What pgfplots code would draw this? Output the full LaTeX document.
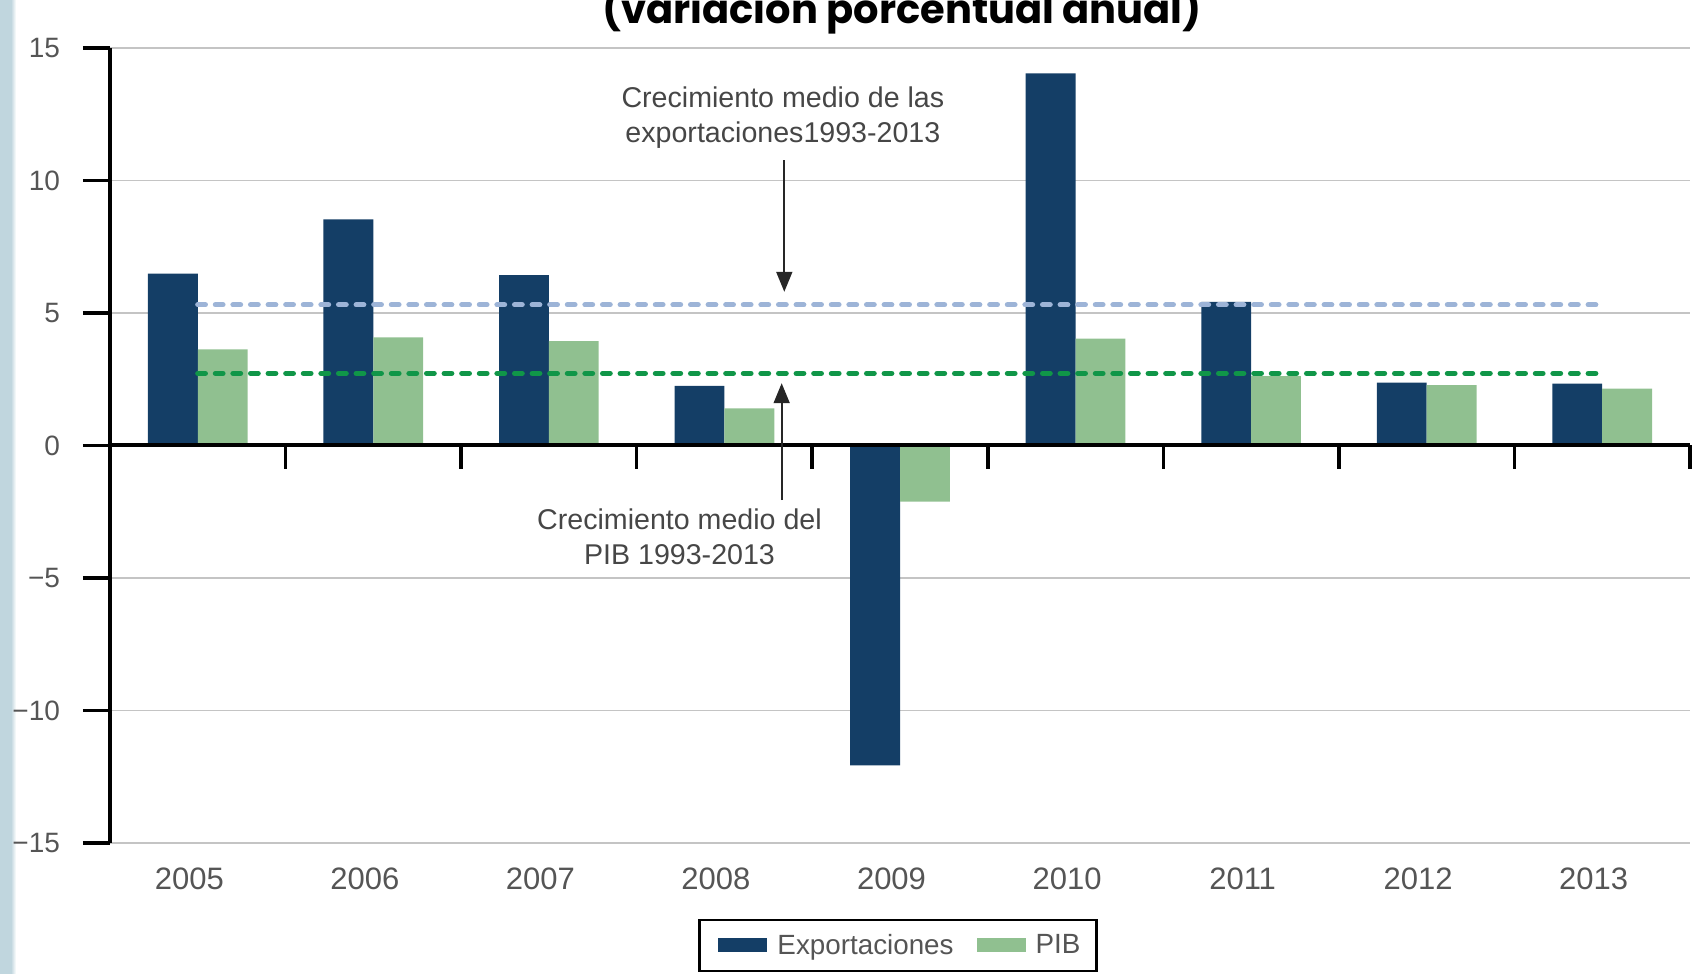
\documentclass[border=0pt]{standalone}
\usepackage{fontspec}
\setmainfont{Liberation Sans}
\newfontfamily\titlefont{Poppins}
\usepackage{pgfplots}
\pgfplotsset{compat=1.18}
\usetikzlibrary{arrows.meta}
\definecolor{barblue}{RGB}{20,62,102}
\definecolor{bargreen}{RGB}{144,192,144}
\definecolor{lbdash}{RGB}{157,180,215}
\definecolor{gdash}{RGB}{16,150,72}
\definecolor{gridc}{RGB}{196,196,196}
\definecolor{tickc}{RGB}{85,85,85}
\definecolor{annc}{RGB}{70,70,70}
\definecolor{stripc}{RGB}{192,214,222}
\begin{document}
\begin{tikzpicture}
\useasboundingbox (0,0) rectangle (847pt,487pt);
\fill[stripc] (0,0) rectangle (5.5pt,487pt);
\shade[left color=stripc, right color=white] (5.5pt,0) rectangle (8pt,487pt);
\node[anchor=base, font=\titlefont\bfseries\fontsize{20}{23}\selectfont] at (451pt,475pt) {(variación porcentual anual)};
\begin{axis}[
  at={(55pt,65.5pt)}, anchor=south west,
  scale only axis, width=790pt, height=397.5pt,
  xmin=-0.5, xmax=8.5, ymin=-15, ymax=15,
  axis y line*=left, axis x line*=bottom,
  x axis line style={draw=none},
  y axis line style={black, line width=1.8pt},
  xtick={0,...,8},
  xticklabels={2005,2006,2007,2008,2009,2010,2011,2012,2013},
  xtick style={draw=none},
  xtick align=inside,
  xticklabel style={font=\fontsize{15.5}{18}\selectfont, text=tickc, yshift=-9pt, xshift=-4.25pt},
  ytick={-15,-10,-5,0,5,10,15},
  yticklabels={−15,−10,−5,0,5,10,15},
  yticklabel style={font=\fontsize{14}{16}\selectfont, text=tickc, xshift=-8pt},
  ytick style={black, line width=1.8pt},
  ytick align=outside, major tick length=13.5pt,
  ymajorgrids, grid style={gridc, line width=0.6pt},
  clip=false,
  legend columns=-1,
  legend style={at={(0.4987,-0.1289)}, anchor=center, draw=black, line width=1.4pt,
    inner xsep=3pt, inner ysep=5pt,
    font=\fontsize{13.9}{16}\selectfont, text=tickc,
    nodes={inner xsep=5pt},
    /tikz/every even column/.append style={column sep=0pt}},
]
\addplot[ybar, bar width=0.284, bar shift=-0.142, fill=barblue, draw=none,
  legend image code/.code={\path (0pt,0pt); \fill[barblue] (6.5pt,-3.5pt) rectangle (31pt,3.5pt);}]
  coordinates {(0,6.49) (1,8.53) (2,6.43) (3,2.25) (4,-12.07) (5,14.04) (6,5.42) (7,2.37) (8,2.33)};
\addlegendentry{Exportaciones}
\addplot[ybar, bar width=0.284, bar shift=0.142, fill=bargreen, draw=none,
  legend image code/.code={\path (0pt,0pt); \fill[bargreen] (6.5pt,-3.5pt) rectangle (31pt,3.5pt);}]
  coordinates {(0,3.63) (1,4.08) (2,3.94) (3,1.40) (4,-2.12) (5,4.03) (6,2.62) (7,2.28) (8,2.15)};
\addlegendentry{PIB}
\addplot[forget plot, black, line width=2pt] coordinates {(-0.5,0) (8.5,0)};
\addplot[forget plot, ycomb, black, line width=1.8pt] coordinates {(0.5,-0.87) (1.5,-0.87) (2.5,-0.87) (3.5,-0.87) (4.5,-0.87) (5.5,-0.87) (6.5,-0.87) (7.5,-0.87) (8.5,-0.87)};
\addplot[forget plot, lbdash, line width=2.6pt, line cap=round, dash pattern=on 3.8pt off 5pt] coordinates {(0,5.31) (8,5.31)};
\addplot[forget plot, gdash, line width=2.6pt, line cap=round, dash pattern=on 3.8pt off 5pt] coordinates {(0,2.72) (8,2.72)};
\draw[-{Triangle[length=10pt,width=8pt]}, line width=0.9pt, black!85] (axis cs:3.341,10.77) -- (axis cs:3.341,5.80);
\draw[-{Triangle[length=10pt,width=8pt]}, line width=0.9pt, black!85] (axis cs:3.326,-2.06) -- (axis cs:3.326,2.35);
\node[align=center, font=\fontsize{14.3}{17.5}\selectfont, text=annc] at (axis cs:3.333,12.38) {Crecimiento medio de las\\exportaciones1993-2013};
\node[align=center, font=\fontsize{14.3}{17.5}\selectfont, text=annc] at (axis cs:2.744,-3.45) {Crecimiento medio del\\PIB 1993-2013};
\end{axis}
\end{tikzpicture}
\end{document}
